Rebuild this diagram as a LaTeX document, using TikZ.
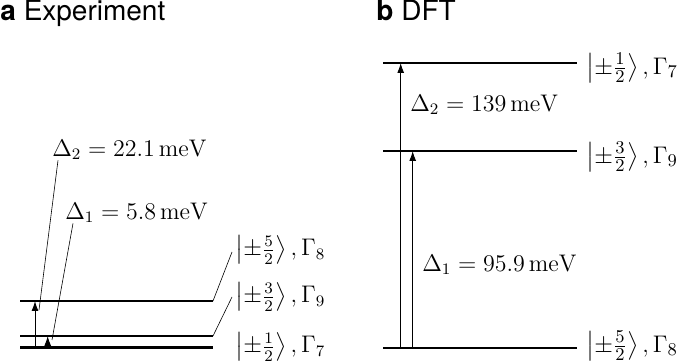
\documentclass[tikz,border=0pt]{standalone}
\usepackage{amsmath}
\usepackage{fontspec}
\setsansfont{TeX Gyre Heros}
\usetikzlibrary{positioning,arrows.meta}

\tikzset{
  level/.style={line width=1.3pt},
  gap/.style={line width=0.5pt,-{Latex[length=5pt,width=3.5pt]}},
  leader/.style={line width=0.3pt},
  lbl/.style={anchor=west,inner sep=0pt,font=\fontsize{12}{14}\selectfont},
  lblb/.style={lbl,font=\fontsize{13}{15}\selectfont},
  head/.style={anchor=north west,inner sep=0pt,font=\fontsize{14}{16}\selectfont\sffamily}
}

\begin{document}
\begin{tikzpicture}[x=0.5pt,y=-0.5pt]
\useasboundingbox (0,0) rectangle (685,362);
% headings
\node[head] (ha) at (0,0) {\textbf{a} Experiment};
\node[head] (hb) at (376,0) {\textbf{b} DFT};

% a: experiment
\coordinate (a8l) at (20,301);   \coordinate (a8r) at (213,301);
\coordinate (a9l) at (20,336);   \coordinate (a9r) at (213,336);
\coordinate (a7l) at (20,347.5); \coordinate (a7r) at (213,347.5);
\draw[level] (a8l) -- (a8r);
\draw[level] (a9l) -- (a9r);
\draw[level] (a7l) -- (a7r);
\node[lbl] (sa8) at (235,250) {$\left|\pm\frac{5}{2}\right\rangle,\Gamma_8$};
\node[lbl] (sa9) at (235,297) {$\left|\pm\frac{3}{2}\right\rangle,\Gamma_9$};
\node[lbl] (sa7) at (235,347) {$\left|\pm\frac{1}{2}\right\rangle,\Gamma_7$};
\draw[leader] (a8r) -- ([xshift=-1.5pt,yshift=-1pt]sa8.west);
\draw[leader] (a9r) -- ([xshift=-1.5pt]sa9.west);

\coordinate (a2s) at (35,347.5);   \coordinate (a2e) at (35,301);
\coordinate (a1s) at (47.7,347.5); \coordinate (a1e) at (47.7,336);
\draw[gap] (a2s) -- (a2e);
\draw[gap] (a1s) -- (a1e);
\node[lbl] (da2) at (52,150) {$\Delta_2 = 22.1\,\mathrm{meV}$};
\node[lbl] (da1) at (65,213) {$\Delta_1 = 5.8\,\mathrm{meV}$};
\coordinate (da2end) at (39,310);
\coordinate (da1end) at (52,340);
\draw[leader] ([xshift=3pt]da2.south west) -- (da2end);
\draw[leader] ([xshift=4pt]da1.south west) -- (da1end);

% b: DFT
\coordinate (b7l) at (383,63);  \coordinate (b7r) at (577,63);
\coordinate (b9l) at (383,151); \coordinate (b9r) at (577,151);
\coordinate (b8l) at (383,348); \coordinate (b8r) at (577,348);
\draw[level] (b7l) -- (b7r);
\draw[level] (b9l) -- (b9r);
\draw[level] (b8l) -- (b8r);
\node[lblb] (sb7) at (586,68)  {$\left|\pm\frac{1}{2}\right\rangle,\Gamma_7$};
\node[lblb] (sb9) at (586,157) {$\left|\pm\frac{3}{2}\right\rangle,\Gamma_9$};
\node[lblb] (sb8) at (586,346) {$\left|\pm\frac{5}{2}\right\rangle,\Gamma_8$};

\coordinate (b2s) at (400.7,348); \coordinate (b2e) at (400.7,63);
\coordinate (b1s) at (412.7,348); \coordinate (b1e) at (412.7,151);
\draw[gap] (b2s) -- (b2e);
\draw[gap] (b1s) -- (b1e);
\node[lbl] (db2) at (410,105) {$\Delta_2 = 139\,\mathrm{meV}$};
\node[lbl] (db1) at (422,265) {$\Delta_1 = 95.9\,\mathrm{meV}$};
\end{tikzpicture}
\end{document}
